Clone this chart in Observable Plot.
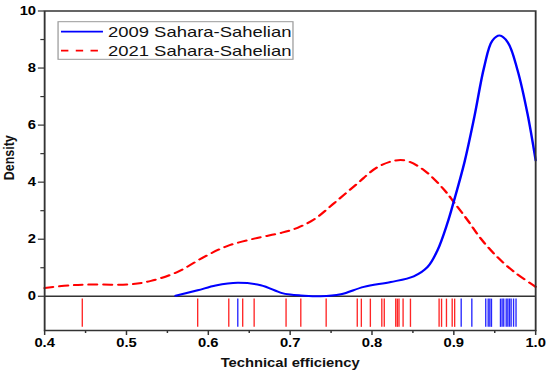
<!DOCTYPE html>
<html>
<head>
<meta charset="utf-8">
<script src="https://cdn.jsdelivr.net/npm/d3@7"></script>
<script src="https://cdn.jsdelivr.net/npm/@observablehq/plot@0.6"></script>
<style>
  html, body { margin: 0; padding: 0; background: #fff; overflow: hidden; }
  #chart { width: 550px; height: 372px; overflow: hidden; }
  #chart svg { transform: scaleX(1.23); transform-origin: 0 0; display: block; }
</style>
</head>
<body>
<div id="chart"></div>
<script>
// ---- data ----
const seriesLabels = ["2009 Sahara-Sahelian", "2021 Sahara-Sahelian"];
const seriesColors = ["#0000ff", "#ff0000"];

const xTicks = [0.4, 0.5, 0.6, 0.7, 0.8, 0.9, 1.0];
const xMinorTicks = [0.45, 0.55, 0.65, 0.75, 0.85, 0.95];
const yTicks = [0, 2, 4, 6, 8, 10];
const yMinorTicks = [1, 3, 5, 7, 9];

// 2009 density curve
const blueX = [0.560, 0.587, 0.609, 0.636, 0.664, 0.689, 0.700, 0.713, 0.737, 0.762, 0.790, 0.823, 0.851, 0.868, 0.880, 0.892, 0.900, 0.913, 0.925, 0.937, 0.947, 0.956, 0.966, 0.978, 0.990, 1.000];
const blueY = [0.02, 0.21, 0.38, 0.47, 0.385, 0.12, 0.06, 0.03, 0.0, 0.07, 0.33, 0.50, 0.70, 1.03, 1.61, 2.55, 3.33, 4.70, 6.28, 8.03, 8.96, 9.14, 8.90, 7.91, 6.40, 4.76];

// 2021 density curve
const redX = [0.400, 0.432, 0.456, 0.505, 0.530, 0.562, 0.595, 0.623, 0.656, 0.690, 0.709, 0.729, 0.754, 0.782, 0.807, 0.829, 0.843, 0.864, 0.888, 0.900, 0.917, 0.933, 0.953, 0.974, 1.000];
const redY = [0.29, 0.385, 0.41, 0.42, 0.54, 0.85, 1.38, 1.76, 2.02, 2.23, 2.40, 2.69, 3.27, 3.95, 4.53, 4.76, 4.74, 4.41, 3.74, 3.30, 2.66, 2.02, 1.38, 0.85, 0.33];

// rug observations
const blueRug = [0.636, 0.909, 0.922, 0.939, 0.942, 0.944, 0.946, 0.957, 0.959, 0.961, 0.964, 0.966, 0.968, 0.970, 0.973, 0.976];
const redRug = [0.446, 0.587, 0.625, 0.642, 0.656, 0.695, 0.713, 0.744, 0.782, 0.787, 0.798, 0.812, 0.815, 0.829, 0.831, 0.833, 0.838, 0.847, 0.882, 0.885, 0.891, 0.898, 0.901];

const xTitle = "Technical efficiency";
const yTitle = "Density";

// ---- build ----
const blueData = blueX.map((x, i) => ({x, y: blueY[i]}));
const redData = redX.map((x, i) => ({x, y: redY[i]}));

const FONT = "'Liberation Sans', Arial, Helvetica, sans-serif";
const W = 447;

const chart = Plot.plot({
  width: W,
  height: 372,
  marginLeft: 35.8,
  marginRight: 12,
  marginTop: 10.5,
  marginBottom: 42,
  style: {fontFamily: FONT, fontSize: "12px", color: "#000", background: "#fff"},
  x: {domain: [0.4, 1.0]},
  y: {domain: [-1.2, 10]},
  marks: [
    Plot.ruleY([0], {stroke: "#333", strokeWidth: 1.3}),
    Plot.ruleX(redRug, {y1: -0.1, y2: -1.09, stroke: seriesColors[1], strokeWidth: 1.1, strokeOpacity: 0.85}),
    Plot.ruleX(blueRug, {y1: -0.1, y2: -1.09, stroke: seriesColors[0], strokeWidth: 1.1, strokeOpacity: 0.85}),
    Plot.line(redData, {x: "x", y: "y", stroke: seriesColors[1], strokeWidth: 2, strokeDasharray: "7,5", curve: "catmull-rom"}),
    Plot.line(blueData, {x: "x", y: "y", stroke: seriesColors[0], strokeWidth: 2, curve: "catmull-rom"}),
    Plot.axisX({ticks: xTicks, tickSize: 5, tickPadding: 3, tickFormat: d => d.toFixed(1), stroke: "#333", strokeWidth: 1.2, label: null}),
    Plot.axisX({ticks: xMinorTicks, tickSize: 3, text: null, stroke: "#333", strokeWidth: 1.2, label: null}),
    Plot.axisY({ticks: yTicks, tickSize: 5, tickPadding: 2, tickFormat: d => String(d), stroke: "#333", strokeWidth: 1.2, label: null}),
    Plot.axisY({ticks: yMinorTicks, tickSize: 3, text: null, stroke: "#333", strokeWidth: 1.2, label: null}),
    Plot.frame({stroke: "#333", strokeWidth: 1.5}),
    Plot.text([xTitle], {frameAnchor: "bottom", lineAnchor: "middle", dy: 32.5, fontWeight: "bold", fontSize: 12, fill: "#111"}),
    Plot.text([yTitle], {frameAnchor: "left", rotate: -90, lineAnchor: "middle", textAnchor: "middle", dx: -29, dy: -13, fontWeight: "bold", fontSize: 12.5, fill: "#111"})
  ]
});

document.getElementById("chart").appendChild(chart);

const svg = d3.select(chart);
// bold tick labels
const tickLabelSet = new Set([...xTicks.map(d => d.toFixed(1)), ...yTicks.map(String)]);
svg.selectAll("text").each(function() {
  if (tickLabelSet.has(this.textContent.trim())) {
    this.setAttribute("font-weight", "bold");
    this.style.fontWeight = "700";
    this.style.fontSize = "12px";
    this.style.fill = "#000";
  }
});

// ---- legend (pre-stretch pixel layout) ----
const lg = svg.append("g").attr("class", "legend");
const box = {x: 47.2, y: 21.7, w: 191, h: 37.6};
lg.append("rect")
  .attr("x", box.x).attr("y", box.y).attr("width", box.w).attr("height", box.h)
  .attr("fill", "#fff").attr("stroke", "#999").attr("stroke-width", 1);
const rowY = [31.7, 50.7];
seriesLabels.forEach((label, i) => {
  lg.append("line")
    .attr("x1", 49.6).attr("x2", 83.7).attr("y1", rowY[i]).attr("y2", rowY[i])
    .attr("stroke", seriesColors[i]).attr("stroke-width", 1.8)
    .attr("stroke-dasharray", i === 1 ? "6,6" : null);
  lg.append("text")
    .attr("x", 87.8).attr("y", rowY[i]).attr("dy", "0.36em")
    .attr("text-anchor", "start")
    .attr("font-family", FONT).attr("font-size", 15).attr("fill", "#111")
    .text(label);
});
</script>
</body>
</html>
